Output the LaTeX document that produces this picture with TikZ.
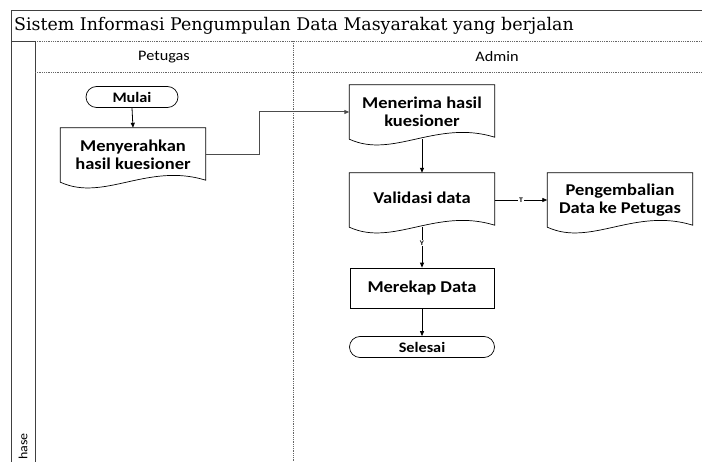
\documentclass[tikz,border=0pt]{standalone}
\usepackage{fontspec}
\setmainfont[FakeStretch=1.12]{Carlito}
\newfontfamily\titlefont{DejaVu Serif}
\usetikzlibrary{arrows.meta,calc}
\tikzset{
  x=1pt, y=-1pt,
  frame/.style={line width=0.9pt, draw=black!75},
  dots/.style={line width=0.8pt, draw=black!60, dash pattern=on 1pt off 0.8pt},
  docbox/.style={minimum width=145pt, minimum height=54pt, inner sep=0pt, align=center,
    font=\fontsize{16.5}{18}\selectfont\bfseries},
  procbox/.style={draw, line width=0.7pt, minimum width=144pt, minimum height=40pt, inner sep=0pt,
    font=\fontsize{16.5}{18}\selectfont\bfseries},
  termbox/.style={draw, line width=0.7pt, rounded corners=10.5pt, minimum height=21pt, inner sep=0pt,
    font=\fontsize{14.5}{16}\selectfont\bfseries},
  conn/.style={line width=0.8pt, -{Triangle[length=5pt,width=4pt]}},
  lanehead/.style={font=\fontsize{14.5}{16}\selectfont},
  smalllab/.style={font=\fontsize{7}{8}\selectfont\bfseries, fill=white, inner sep=0.8pt},
}
\begin{document}
\begin{tikzpicture}
\useasboundingbox (0,0) rectangle (702,462);
% swimlane frame
\draw[frame] (720,10) -- (11,10) -- (11,480);
\draw[frame] (11,41) -- (35,41);
\draw[dots] (35,41) -- (720,41);
\draw[frame] (35,41) -- (35,480);
\draw[dots] (35,72) -- (720,72);
\draw[dots] (293,41) -- (293,480);
\node[anchor=west, inner sep=0pt, font=\titlefont\fontsize{17.4}{19}\selectfont] (title) at (14,26) {Sistem Informasi Pengumpulan Data Masyarakat yang berjalan};
\node[lanehead] (petugas) at (164,57) {Petugas};
\node[lanehead] (admin) at (497,57) {Admin};
\node[rotate=90, anchor=east, inner sep=0pt, font=\fontsize{12.5}{13}\selectfont] (phase) at (23,433) {hase};
% nodes
\node[termbox, minimum width=92pt] (mulai) at (132,97) {Mulai};
\node[docbox] (d1) at (133,155) {Menyerahkan\\hasil kuesioner};
\node[docbox] (d2) at (422,112) {Menerima hasil\\kuesioner};
\node[docbox] (d3) at (422,200) {\raisebox{4pt}{Validasi data}};
\node[docbox] (d4) at (620,200) {Pengembalian\\Data ke Petugas};
\node[procbox] (rekap) at (422,288) {Merekap Data};
\node[termbox, minimum width=145pt] (selesai) at (422,347) {Selesai};
% document outlines
\foreach \n in {d1,d2,d3,d4}{
  \draw[line width=0.7pt] (\n.north west) -- (\n.north east) -- ($(\n.south east)+(0,-2)$)
    .. controls ($(\n.south west)!0.6!(\n.south east)+(0,-20)$) and ($(\n.south west)!0.3!(\n.south east)+(0,20)$) .. (\n.south west) -- cycle;
}
% connectors
\coordinate (bend) at (259,0);
\draw[conn] (mulai.south) -- (d1.north);
\draw[conn, draw=black!70, line width=1pt] (d1.east) -- (d1.east -| bend) |- (d2.west);
\draw[conn] (d2.south) -- (d3.north);
\draw[conn] (d3.east) -- node[smalllab] {T} (d4.west);
\draw[conn] (d3.south) -- node[smalllab, pos=0.4] {Y} (rekap.north);
\draw[conn] (rekap.south) -- (selesai.north);
\end{tikzpicture}
\end{document}
